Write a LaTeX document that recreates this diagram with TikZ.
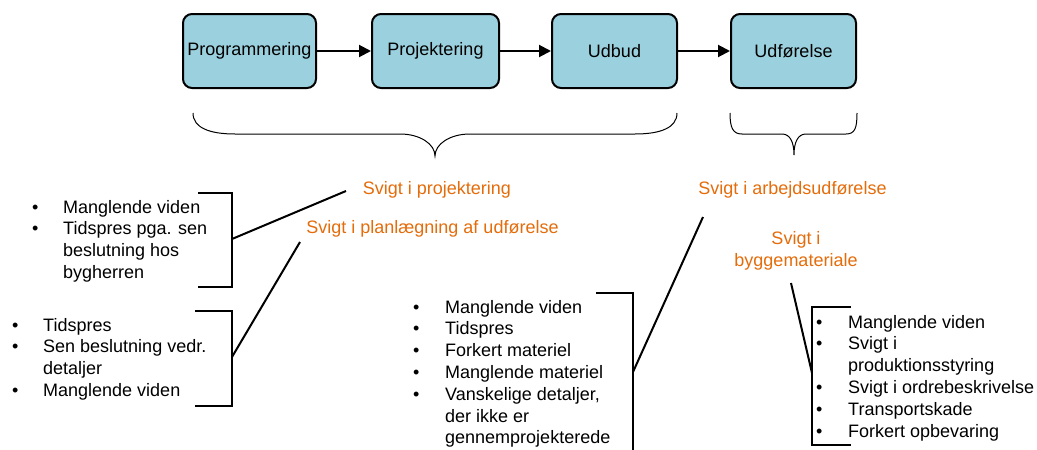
\documentclass[tikz,border=0pt]{standalone}
\usepackage{fontspec}
\setmainfont{Liberation Sans}
\usetikzlibrary{arrows.meta}
\definecolor{boxfill}{RGB}{155,209,222}
\definecolor{lblcol}{RGB}{228,108,10}
\newcommand\bul{\makebox[0pt]{\textbullet}}
\begin{document}
\begin{tikzpicture}[x=1pt,y=-1pt,
  font=\fontsize{18}{21.8}\selectfont,
  phase/.style={draw=black, line width=2pt, fill=boxfill, rounded corners=9pt,
    minimum height=74pt, inner sep=0pt},
  flow/.style={line width=2pt, -{Triangle[length=12pt,width=12pt]}},
  brk/.style={line width=2pt},
  conn/.style={line width=2pt},
  brace/.style={line width=1pt},
  lbl/.style={text=lblcol, inner sep=0pt},
  blist/.style={inner sep=0pt, anchor=base west}]
\useasboundingbox (0,0) rectangle (1037,450);

% process boxes
\node[phase, minimum width=133pt] (p1) at (249.5,51) {Programmering};
\node[phase, minimum width=127pt] (p2) at (435.5,51) {Projektering};
\node[phase, minimum width=125pt] (p3) at (614.5,51) {Udbud};
\node[phase, minimum width=125pt] (p4) at (793.5,51) {Udførelse};
\draw[flow] (p1) -- (p2);
\draw[flow] (p2) -- (p3);
\draw[flow] (p3) -- (p4);

% braces
\draw[brace] (193,113) .. controls (193,128) and (210,134) .. (235,134) -- (400,134)
  .. controls (420,134) and (435,144) .. (435,156)
  .. controls (435,144) and (450,134) .. (470,134) -- (635,134)
  .. controls (660,134) and (677,128) .. (677,113);
\draw[brace] (730,113) .. controls (730,128) and (733,134) .. (742,134) -- (782,134)
  .. controls (790,134) and (794,142) .. (794,155)
  .. controls (794,142) and (798,134) .. (806,134) -- (846,134)
  .. controls (855,134) and (857,128) .. (857,113);

% labels
\node[lbl, anchor=base] (lproj) at (437,194) {Svigt i projektering};
\node[lbl, anchor=base] (lplan) at (432.5,233) {Svigt i planlægning af udførelse};
\node[lbl, anchor=base] (larb) at (792.5,194) {Svigt i arbejdsudførelse};
\node[lbl, anchor=base] (lbyg) at (796,244) {\def\arraystretch{1.05}\begin{tabular}[t]{@{}c@{}}Svigt i\\byggemateriale\end{tabular}};

% lists
\node[blist] (list1) at (35,213) {\begin{tabular}[t]{@{}c@{\hspace{28pt}}l@{}}
\bul & Manglende viden\\
\bul & Tidspres pga. sen\\
 & beslutning hos\\
 & bygherren\end{tabular}};
\node[blist] (list2) at (15,331) {\begin{tabular}[t]{@{}c@{\hspace{28pt}}l@{}}
\bul & Tidspres\\
\bul & Sen beslutning vedr.\\
 & detaljer\\
\bul & Manglende viden\end{tabular}};
\node[blist] (list3) at (416,313) {\begin{tabular}[t]{@{}c@{\hspace{29pt}}l@{}}
\bul & Manglende viden\\
\bul & Tidspres\\
\bul & Forkert materiel\\
\bul & Manglende materiel\\
\bul & Vanskelige detaljer,\\
 & der ikke er\\
 & gennemprojekterede\end{tabular}};
\node[blist] (list4) at (819,328) {\begin{tabular}[t]{@{}c@{\hspace{29pt}}l@{}}
\bul & Manglende viden\\
\bul & Svigt i\\
 & produktionsstyring\\
\bul & Svigt i ordrebeskrivelse\\
\bul & Transportskade\\
\bul & Forkert opbevaring\end{tabular}};

% brackets
\draw[brk] (198,193) -- (232,193) -- (232,287) -- (198,287);
\draw[brk] (195,311) -- (232,311) -- (232,406) -- (195,406);
\draw[brk] (596,293) -- (633,293) -- (633,455);
\draw[brk] (851,307) -- (812,307) -- (812,445) -- (851,445);
\coordinate (b1) at (232,239);
\coordinate (b2) at (232,357);
\coordinate (b3) at (633,372);
\coordinate (b4) at (812,373);
\coordinate (c1) at (346,191);
\coordinate (c2) at (300,242);
\coordinate (c3) at (703,217);
\coordinate (c4) at (791,283);

% connectors
\draw[conn] (b1) -- (c1);
\draw[conn] (b2) -- (c2);
\draw[conn] (b3) -- (c3);
\draw[conn] (b4) -- (c4);
\end{tikzpicture}
\end{document}
